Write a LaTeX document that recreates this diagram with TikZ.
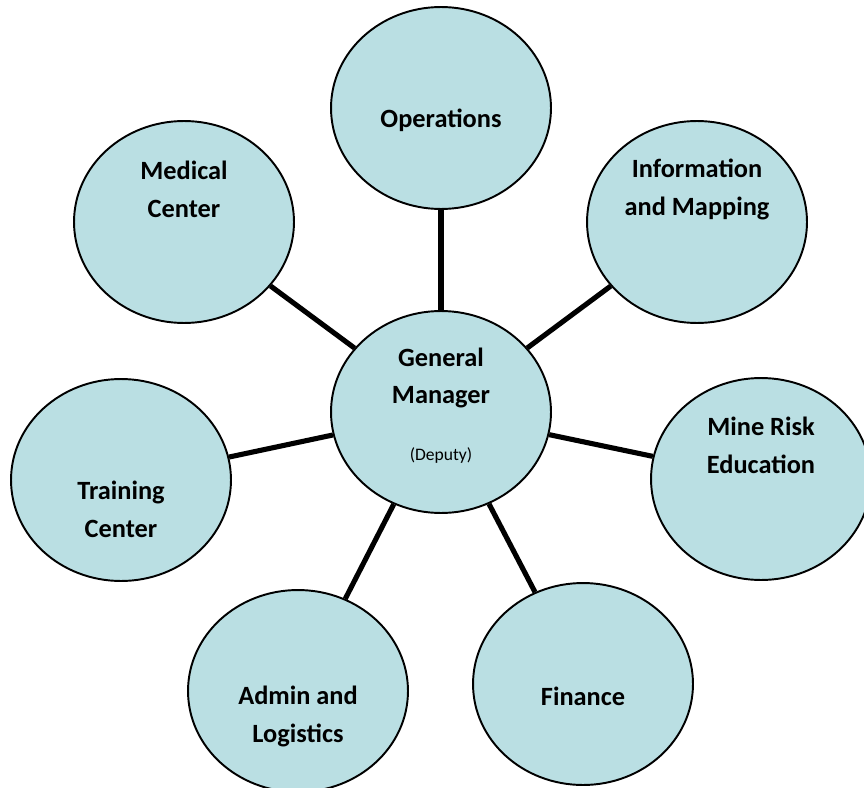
\documentclass[tikz,border=0pt]{standalone}
\usepackage{fontspec}
\setmainfont{Carlito}
\usetikzlibrary{shapes.geometric}
\definecolor{unitfill}{RGB}{186,223,227}

\begin{document}
\begin{tikzpicture}[x=0.02cm,y=-0.02cm,
        unit/.style={ellipse, draw=black, line width=1.1pt, fill=unitfill,
            minimum width=4.4cm, minimum height=4.04cm, inner sep=0pt},
        lbl/.style={font=\fontsize{15}{21.6}\selectfont\bfseries, align=center},
        small/.style={font=\fontsize{10}{12}\selectfont},
        link/.style={line width=2.9pt}]
            \useasboundingbox (0,0) rectangle (864,787);
            \node[unit, label={[lbl, yshift=-12*0.02cm]center:Operations}] (ops) at (441,108) {};
            \node[unit, label={[lbl, yshift=33*0.02cm]center:Medical\\Center}] (med) at (184,222) {};
            \node[unit, label={[lbl, yshift=33*0.02cm]center:Information\\and Mapping}] (info) at (697,222) {};
            \node[unit, label={[lbl, yshift=34*0.02cm]center:General\\Manager},
                label={[small, yshift=-43*0.02cm]center:(Deputy)}] (gm) at (441,412) {};
            \node[unit, label={[lbl, yshift=-29*0.02cm]center:Training\\Center}] (train) at (121,480) {};
            \node[unit, label={[lbl, yshift=34*0.02cm]center:Mine Risk\\Education}] (mre) at (761,479) {};
            \node[unit, label={[lbl, yshift=-25*0.02cm]center:Admin and\\Logistics}] (admin) at (298,691) {};
            \node[unit, label={[lbl, yshift=-12*0.02cm]center:Finance}] (fin) at (583,684) {};
            \draw[link] (gm) -- (ops);
            \draw[link] (gm) -- (med);
            \draw[link] (gm) -- (info);
            \draw[link] (gm) -- (train);
            \draw[link] (gm) -- (mre);
            \draw[link] (gm) -- (admin);
            \draw[link] (gm) -- (fin);
        \end{tikzpicture}
\end{document}
